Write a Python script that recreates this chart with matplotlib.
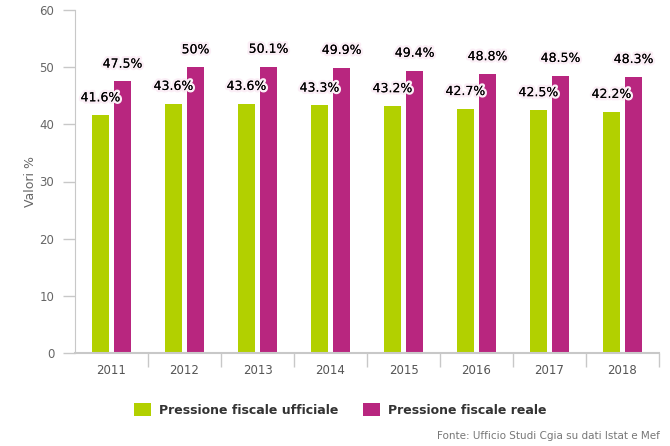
import numpy as np
import matplotlib
matplotlib.use("Agg")
from matplotlib import pyplot as plt
from matplotlib import patheffects as pe

anni = ["2011", "2012", "2013", "2014", "2015", "2016", "2017", "2018"]
ufficiale = [41.6, 43.6, 43.6, 43.3, 43.2, 42.7, 42.5, 42.2]
reale = [47.5, 50.0, 50.1, 49.9, 49.4, 48.8, 48.5, 48.3]
etichette_uff = ["41.6%", "43.6%", "43.6%", "43.3%", "43.2%", "42.7%", "42.5%", "42.2%"]
etichette_reale = ["47.5%", "50%", "50.1%", "49.9%", "49.4%", "48.8%", "48.5%", "48.3%"]

verde = "#b2d000"
viola = "#b8267f"
grigio = "#c8c8c8"

plt.rcParams['font.family'] = ['DejaVu Sans']

fig = plt.figure(figsize=(6.7, 4.46), dpi=100)
ax = fig.add_axes([75/670, 1-353/446, 584/670, 343/446])

x = np.arange(len(anni))
w = 0.225
off = 0.152
ax.bar(x - off, ufficiale, w, color=verde, label="Pressione fiscale ufficiale")
ax.bar(x + off, reale, w, color=viola, label="Pressione fiscale reale")

# alone chiaro intorno alle etichette
glow = [pe.withStroke(linewidth=3.5, foreground="#fbeef6"), pe.Normal()]
for i in range(len(anni)):
    ax.text(x[i] - off, ufficiale[i] + 1.9, etichette_uff[i], ha="center", va="bottom",
            fontsize=9, color="black", path_effects=glow)
    ax.text(x[i] + off, reale[i] + 1.9, etichette_reale[i], ha="center", va="bottom",
            fontsize=9, color="black", path_effects=glow)

ax.set_xlim(-0.5, len(anni) - 0.5)
ax.set_ylim(0, 60)
ax.set_yticks([0, 10, 20, 30, 40, 50, 60])
ax.set_xticks(x)
ax.set_xticklabels(anni)
ax.set_xticks(np.arange(1, len(anni) + 1) - 0.5, minor=True)
ax.tick_params(axis="x", which="major", length=0, pad=8, labelsize=8.5, labelcolor="#555555")
ax.tick_params(axis="x", which="minor", length=10, color=grigio, width=1)
ax.tick_params(axis="y", length=9, color=grigio, width=1, labelsize=8.5, labelcolor="#666666", pad=6)

for s in ["top", "right"]:
    ax.spines[s].set_visible(False)
ax.spines["left"].set_color(grigio)
ax.spines["bottom"].set_color(grigio)
ax.spines["bottom"].set_linewidth(1.5)

ax.set_ylabel("Valori %", color="#666666", fontsize=9, labelpad=2)

leg = fig.legend(loc="center", bbox_to_anchor=(340/670, 1-410/446), ncol=2, frameon=False,
                 prop={"weight": "bold", "size": 9}, handlelength=1.4, handleheight=1.2,
                 columnspacing=2.0, handletextpad=0.6)
for t in leg.get_texts():
    t.set_color("#333333")

fig.text(660/670, 1-436/446, "Fonte: Ufficio Studi Cgia su dati Istat e Mef", ha="right",
         va="center", fontsize=7.5, color="#777777")

fig.savefig("out.png", dpi=100)
